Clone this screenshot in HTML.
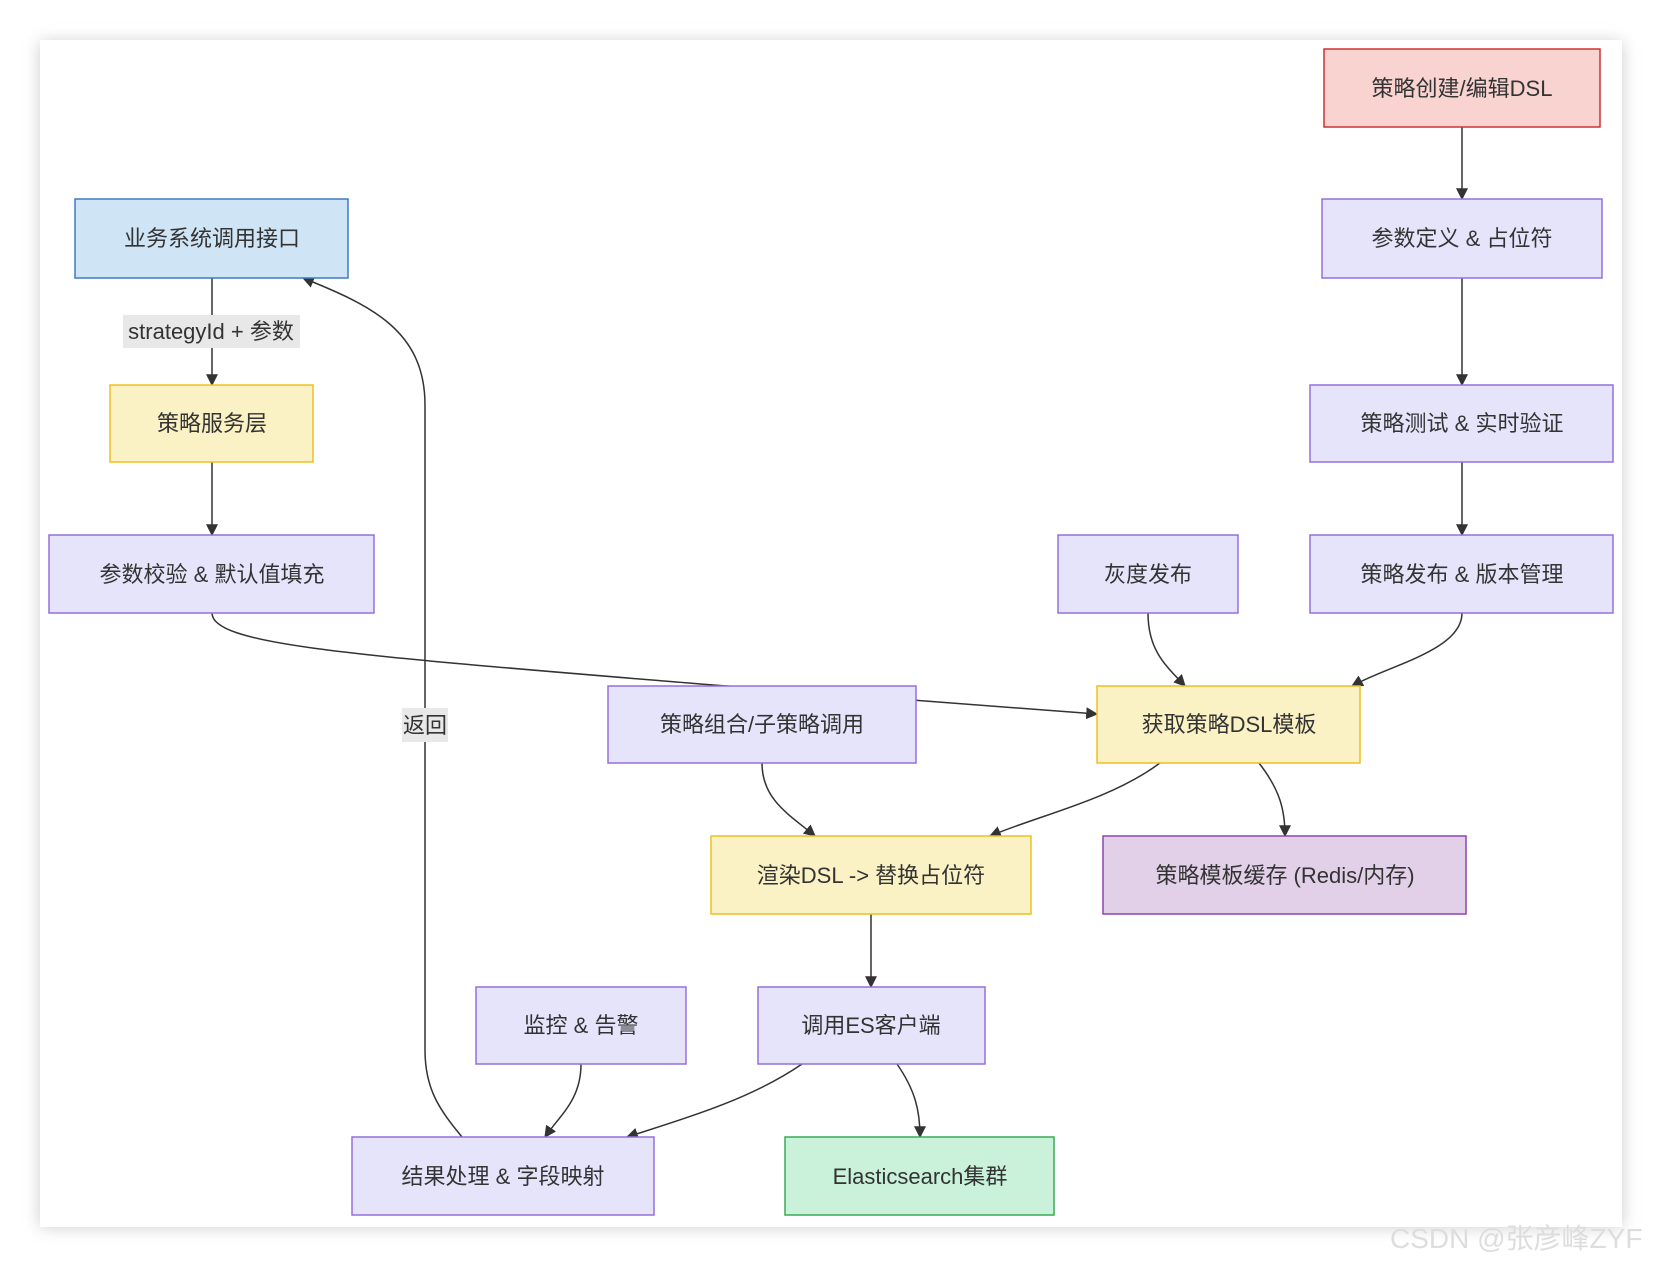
<!DOCTYPE html>
<html><head><meta charset="utf-8"><style>
html,body{margin:0;padding:0;background:#fff;}
svg{display:block}
text{font-family:"Liberation Sans","Noto Sans CJK SC",sans-serif;font-size:22px;fill:#333;}
</style></head><body>
<svg width="1662" height="1268" viewBox="0 0 1662 1268" xmlns="http://www.w3.org/2000/svg">
<defs>
<filter id="sh" x="-5%" y="-5%" width="110%" height="110%"><feGaussianBlur stdDeviation="8"/></filter>
<marker id="ar" viewBox="0 0 10 10" refX="9" refY="5" markerWidth="8" markerHeight="8" orient="auto-start-reverse"><path d="M0,0 L10,5 L0,10 z" fill="#333"/></marker>
</defs>
<rect x="40" y="42" width="1582" height="1185" fill="#ccc" filter="url(#sh)"/>
<rect x="40" y="40" width="1582" height="1187" fill="#fff"/>
<g fill="none" stroke="#333" stroke-width="1.5">
<path d="M1462,127 L1462,199" marker-end="url(#ar)"/>
<path d="M1462,278 L1462,385" marker-end="url(#ar)"/>
<path d="M1462,462 L1462,535" marker-end="url(#ar)"/>
<path d="M1462,613 C1462,650 1390,665 1352,686" marker-end="url(#ar)"/>
<path d="M1148,613 C1148,650 1165,665 1185,686" marker-end="url(#ar)"/>
<path d="M212,613 C212,645 350,655 700,684 L1097,714" marker-end="url(#ar)"/>
<path d="M762,763 C762,800 790,815 815,836" marker-end="url(#ar)"/>
<path d="M1160,763 C1110,800 1040,815 990,836" marker-end="url(#ar)"/>
<path d="M1259,763 C1280,790 1285,810 1285,836" marker-end="url(#ar)"/>
<path d="M871,914 L871,987" marker-end="url(#ar)"/>
<path d="M802,1064 C750,1100 680,1120 627,1137" marker-end="url(#ar)"/>
<path d="M897,1064 C915,1090 920,1110 920,1137" marker-end="url(#ar)"/>
<path d="M581,1064 C581,1100 560,1115 545,1137" marker-end="url(#ar)"/>
<path d="M462,1137 C440,1110 425,1090 425,1050 L425,405 C425,330 370,305 303,278" marker-end="url(#ar)"/>
<path d="M212,278 L212,385" marker-end="url(#ar)"/>
<path d="M212,462 L212,535" marker-end="url(#ar)"/>
</g>
<rect x="123" y="315" width="177" height="33" fill="#e8e8e8"/>
<text x="211" y="339" text-anchor="middle">strategyId + 参数</text>
<rect x="402" y="708" width="46" height="34" fill="#e8e8e8"/>
<text x="425" y="733" text-anchor="middle">返回</text>
<g stroke-width="1.5">
<rect x="1324" y="49" width="276" height="78" fill="#f8d3d0" stroke="#cc3333"/>
<rect x="1322" y="199" width="280" height="79" fill="#e6e4fb" stroke="#9370db"/>
<rect x="1310" y="385" width="303" height="77" fill="#e6e4fb" stroke="#9370db"/>
<rect x="1310" y="535" width="303" height="78" fill="#e6e4fb" stroke="#9370db"/>
<rect x="1058" y="535" width="180" height="78" fill="#e6e4fb" stroke="#9370db"/>
<rect x="75" y="199" width="273" height="79" fill="#cfe4f5" stroke="#3b7cc4"/>
<rect x="110" y="385" width="203" height="77" fill="#faf1c4" stroke="#f0c020"/>
<rect x="49" y="535" width="325" height="78" fill="#e6e4fb" stroke="#9370db"/>
<rect x="608" y="686" width="308" height="77" fill="#e6e4fb" stroke="#9370db"/>
<rect x="1097" y="686" width="263" height="77" fill="#faf1c4" stroke="#f0c020"/>
<rect x="711" y="836" width="320" height="78" fill="#faf1c4" stroke="#f0c020"/>
<rect x="1103" y="836" width="363" height="78" fill="#e2d0e8" stroke="#8e44ad"/>
<rect x="476" y="987" width="210" height="77" fill="#e6e4fb" stroke="#9370db"/>
<rect x="758" y="987" width="227" height="77" fill="#e6e4fb" stroke="#9370db"/>
<rect x="352" y="1137" width="302" height="78" fill="#e6e4fb" stroke="#9370db"/>
<rect x="785" y="1137" width="269" height="78" fill="#caf2da" stroke="#3aaa55"/>
</g>
<g text-anchor="middle">
<text x="1462" y="96">策略创建/编辑DSL</text>
<text x="1462" y="246">参数定义 &amp; 占位符</text>
<text x="1462" y="431">策略测试 &amp; 实时验证</text>
<text x="1462" y="582">策略发布 &amp; 版本管理</text>
<text x="1148" y="582">灰度发布</text>
<text x="212" y="246">业务系统调用接口</text>
<text x="212" y="431">策略服务层</text>
<text x="212" y="582">参数校验 &amp; 默认值填充</text>
<text x="762" y="732">策略组合/子策略调用</text>
<text x="1229" y="732">获取策略DSL模板</text>
<text x="871" y="883">渲染DSL -&gt; 替换占位符</text>
<text x="1285" y="883">策略模板缓存 (Redis/内存)</text>
<text x="581" y="1033">监控 &amp; 告警</text>
<text x="871" y="1033">调用ES客户端</text>
<text x="503" y="1184">结果处理 &amp; 字段映射</text>
<text x="920" y="1184">Elasticsearch集群</text>
</g>
<text x="1390" y="1248" style="font-size:28px;fill:#ddd">CSDN @张彦峰ZYF</text>
</svg>
</body></html>
